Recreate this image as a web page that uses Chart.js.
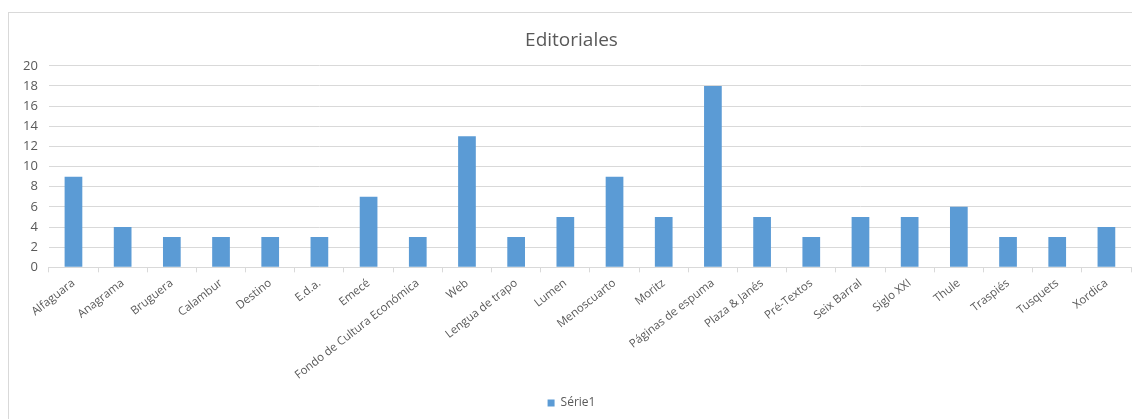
<!DOCTYPE html>
<html>
<head>
<meta charset="utf-8">
<script src="https://cdn.jsdelivr.net/npm/chart.js@4"></script>
<style>
  body { margin: 0; background: #fff; }
  #box { position: absolute; left: 8px; top: 12px; width: 1130px; height: 410px; border: 1px solid #d9d9d9; box-sizing: border-box; }
</style>
</head>
<body>
<div id="box"><canvas id="myChart"></canvas></div>
<script>
var editoriales = ["Alfaguara", "Anagrama", "Bruguera", "Calambur", "Destino", "E.d.a.", "Emecé", "Fondo de Cultura Económica", "Web", "Lengua de trapo", "Lumen", "Menoscuarto", "Moritz", "Páginas de espuma", "Plaza & Janés", "Pré-Textos", "Seix Barral", "Siglo XXI", "Thule", "Traspiés", "Tusquets", "Xordica"]
var serie1 = [9, 4, 3, 3, 3, 3, 7, 3, 13, 3, 5, 9, 5, 18, 5, 3, 5, 5, 6, 3, 3, 4]
var yTicks = [0, 20, 2]

var chartField = document.querySelector("#myChart").getContext("2d")
var font = "'Open Sans', 'Noto Sans', sans-serif"

var myChart = new Chart(chartField, {
    type: "bar",
    data: {
        labels: editoriales,
        datasets: [{
            label: "Série1",
            data: serie1,
            backgroundColor: "#5b9bd5",
            barPercentage: 0.36,
            categoryPercentage: 1
        }]
    },
    options: {
        responsive: true,
        maintainAspectRatio: false,
        animation: false,
        layout: { padding: { left: 3, right: 6, top: 6, bottom: 2 } },
        plugins: {
            title: {
                display: true,
                text: "Editoriales",
                color: "#595959",
                font: { family: font, size: 19, weight: "normal" },
                padding: { top: 10, bottom: 14 }
            },
            legend: {
                position: "bottom",
                labels: {
                    color: "#595959",
                    font: { family: font, size: 12 },
                    boxWidth: 7,
                    boxHeight: 7,
                    padding: 6
                }
            },
            tooltip: { enabled: false }
        },
        scales: {
            x: {
                grid: { offset: true, drawOnChartArea: false, tickLength: 5, color: "#d9d9d9" },
                border: { color: "#d9d9d9" },
                ticks: {
                    color: "#595959",
                    font: { family: font, size: 11.5 },
                    minRotation: 38,
                    maxRotation: 38,
                    autoSkip: false,
                    padding: 4
                },
                // a bit more room between the labels and the legend
                afterFit: function(scale) { scale.height += 5 }
            },
            y: {
                min: yTicks[0],
                max: yTicks[1],
                grid: { color: "#d9d9d9", drawTicks: false },
                border: { display: false },
                ticks: {
                    stepSize: yTicks[2],
                    color: "#595959",
                    font: { family: font, size: 13 },
                    padding: 11
                }
            }
        }
    }
});
</script>
</body>
</html>
